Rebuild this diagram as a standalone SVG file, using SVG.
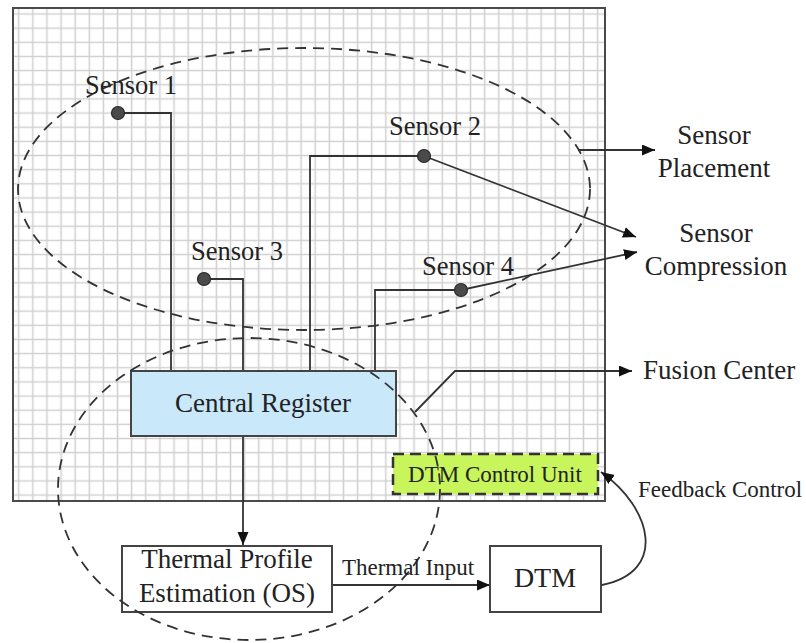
<svg xmlns="http://www.w3.org/2000/svg" width="806" height="643" viewBox="0 0 806 643">
<style>
text{font-family:"Liberation Serif","Times New Roman",serif;fill:#222}
.big{font-size:27px}
.sen{font-size:26.5px}
.sm{font-size:23px}
.ln{fill:none;stroke:#333;stroke-width:1.8}
.dash{fill:none;stroke:#333;stroke-width:1.8;stroke-dasharray:11 7}
.dot{fill:#4a4a4a;stroke:#2a2a2a;stroke-width:1.2}
.box{stroke:#444;stroke-width:2}
</style>
<defs>
<pattern id="grid" patternUnits="userSpaceOnUse" x="11.64" y="6.93" width="14.12" height="14.15">
<path d="M7.06 0V14.15M0 7.075H14.12" stroke="#d0d0d0" stroke-width="1.5" fill="none"/>
</pattern>
<marker id="arr" markerUnits="userSpaceOnUse" markerWidth="14" markerHeight="12" refX="13" refY="5.5" orient="auto">
<path d="M0 0L13 5.5L0 11z" fill="#111"/>
</marker>
</defs>
<g id="board">
<rect x="13" y="8" width="592" height="493" fill="#fff"/>
<rect x="13" y="8" width="592" height="493" fill="url(#grid)"/>
<rect x="13" y="8" width="592" height="493" fill="none" stroke="#4a4a4a" stroke-width="2"/>
</g>
<g id="connectors">
<path class="ln" d="M118 113H171V371"/>
<path class="ln" d="M424 156H310V371"/>
<path class="ln" d="M204 279H243V371"/>
<path class="ln" d="M461 290H375V371"/>
<path class="ln" d="M424 156L636 237" marker-end="url(#arr)"/>
<path class="ln" d="M461 290L637 252" marker-end="url(#arr)"/>
<path class="ln" d="M578 150H655" marker-end="url(#arr)"/>
<path class="ln" d="M415 412L455 371H632" marker-end="url(#arr)"/>
<path class="ln" d="M243 436V545" marker-end="url(#arr)"/>
<path class="ln" d="M332 585H490" marker-end="url(#arr)"/>
<path class="ln" d="M602 585C668 572 652 508 601 472" marker-end="url(#arr)"/>
</g>
<g id="central-register">
<rect class="box" x="131" y="371" width="265" height="65" fill="#c9e8fa"/>
<text class="big" x="263" y="412" text-anchor="middle">Central Register</text>
</g>
<g id="dtm-control-unit">
<rect x="393" y="454" width="205" height="40" fill="#c8f55c" stroke="#333" stroke-width="2.5" stroke-dasharray="11 6"/>
<text class="sm" x="495" y="482" text-anchor="middle">DTM Control Unit</text>
</g>
<g id="thermal-profile">
<rect class="box" x="122" y="546" width="210" height="66" fill="#fff"/>
<text class="big" x="227" y="568" text-anchor="middle">Thermal Profile</text>
<text class="big" x="227" y="602" text-anchor="middle">Estimation (OS)</text>
</g>
<g id="dtm">
<rect class="box" x="490" y="546" width="111" height="66" fill="#fff"/>
<text class="big" x="545" y="587" text-anchor="middle" style="font-size:28px">DTM</text>
</g>
<g id="regions">
<ellipse class="dash" cx="304" cy="189" rx="286" ry="141"/>
<ellipse class="dash" cx="249" cy="489" rx="191" ry="151"/>
</g>
<g id="sensor-1">
<circle class="dot" cx="118" cy="113" r="6.5"/>
<text class="sen" x="131" y="94" text-anchor="middle">Sensor 1</text>
</g>
<g id="sensor-2">
<circle class="dot" cx="424" cy="156" r="6.5"/>
<text class="sen" x="435" y="135" text-anchor="middle">Sensor 2</text>
</g>
<g id="sensor-3">
<circle class="dot" cx="204" cy="279" r="6.5"/>
<text class="sen" x="237" y="260" text-anchor="middle">Sensor 3</text>
</g>
<g id="sensor-4">
<circle class="dot" cx="461" cy="290" r="6.5"/>
<text class="sen" x="468" y="275" text-anchor="middle">Sensor 4</text>
</g>
<g id="labels">
<text class="big" x="714" y="144" text-anchor="middle">Sensor</text>
<text class="big" x="714" y="177" text-anchor="middle">Placement</text>
<text class="big" x="716" y="242" text-anchor="middle">Sensor</text>
<text class="big" x="716" y="275" text-anchor="middle">Compression</text>
<text class="big" x="643" y="379">Fusion Center</text>
<text class="sm" x="638" y="497">Feedback Control</text>
<text class="sm" x="408" y="575" text-anchor="middle">Thermal Input</text>
</g>
</svg>
